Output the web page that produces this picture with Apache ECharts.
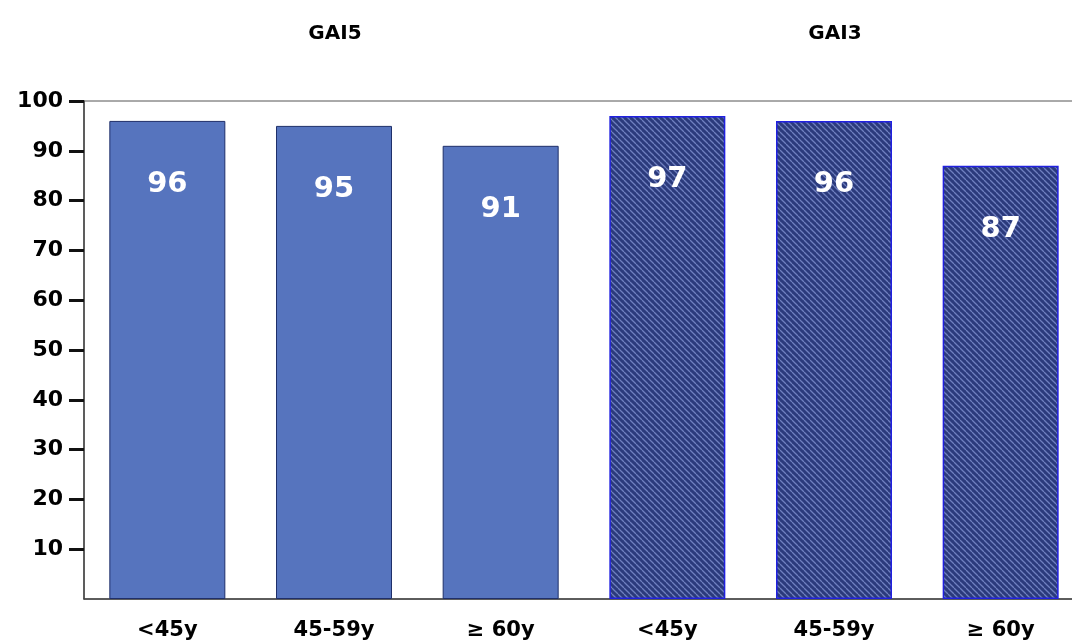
<!DOCTYPE html>
<html><head><meta charset="utf-8">
<script src="https://cdn.jsdelivr.net/npm/echarts@6/dist/echarts.min.js"></script>
<style>html,body{margin:0;padding:0;background:#fff;overflow:hidden;width:1072px;height:642px}#c{width:1086px;height:642px}</style>
</head><body><div id="c"></div>
<script>
const ageGroups = ['<45y', '45-59y', '\u2265 60y'];
const groupTitles = ['GAI5', 'GAI3'];
const gai5Values = [96, 95, 91];
const gai3Values = [97, 96, 87];
const yTicks = [10, 20, 30, 40, 50, 60, 70, 80, 90, 100];

function hatch() {
  const c = document.createElement('canvas');
  c.width = 6; c.height = 6;
  const g = c.getContext('2d');
  g.fillStyle = '#2b3a7c';
  g.fillRect(0, 0, 6, 6);
  g.strokeStyle = '#6f7fbf';
  g.lineWidth = 1.3;
  for (let k = -6; k <= 12; k += 6) {
    g.beginPath(); g.moveTo(k, 0); g.lineTo(k + 6, 6); g.stroke();
  }
  return c;
}
const pattern = { image: hatch(), repeat: 'repeat' };

const categories = ageGroups.concat(ageGroups);
const data = [];
gai5Values.forEach(v => data.push({ value: v, itemStyle: { color: '#5674be', borderColor: '#1f2f6a', borderWidth: 1 } }));
gai3Values.forEach(v => data.push({ value: v, itemStyle: { color: pattern, borderColor: '#2020e0', borderWidth: 1.5 } }));

const F = 'DejaVu Sans';
const chart = echarts.init(document.getElementById('c'));
chart.setOption({
  animation: false,
  title: [
    { text: groupTitles[0], left: 330, top: 19, textAlign: 'center', textStyle: { fontFamily: F, fontWeight: 'bold', fontSize: 20, color: '#000' } },
    { text: groupTitles[1], left: 830, top: 19, textAlign: 'center', textStyle: { fontFamily: F, fontWeight: 'bold', fontSize: 20, color: '#000' } }
  ],
  grid: { left: 84, top: 101, width: 1000, height: 498, show: true, borderColor: '#555', borderWidth: 1, containLabel: false },
  xAxis: {
    type: 'category', data: categories,
    axisLine: { lineStyle: { color: '#444', width: 1.5 } },
    axisTick: { alignWithLabel: true, length: 7, lineStyle: { color: '#111', width: 2 } },
    axisLabel: { fontFamily: F, fontWeight: 'bold', fontSize: 21, color: '#000', margin: 21 }
  },
  yAxis: {
    type: 'value', min: 0, max: 100, interval: 10,
    splitLine: { show: false },
    axisLine: { show: true, lineStyle: { color: '#444', width: 1.5 } },
    axisTick: { show: true, length: 15, customValues: yTicks, lineStyle: { color: '#111', width: 3 } },
    axisLabel: { fontFamily: F, fontWeight: 'bold', fontSize: 22, color: '#000', margin: 21, customValues: yTicks }
  },
  series: [{
    type: 'bar', data: data, barWidth: 116,
    label: { show: true, position: 'insideTop', distance: 49, color: '#fff', fontFamily: F, fontWeight: 'bold', fontSize: 29 }
  }]
});
</script></body></html>
